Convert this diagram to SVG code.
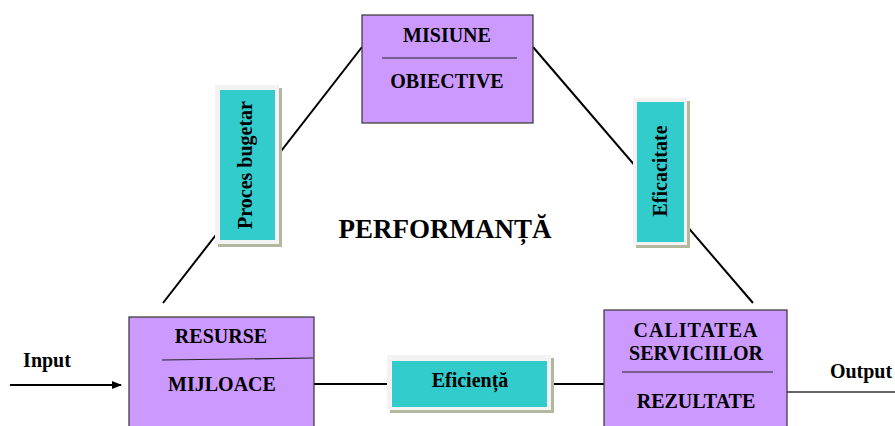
<svg xmlns="http://www.w3.org/2000/svg" width="895" height="426" viewBox="0 0 895 426">
<defs>
<style>
.box{fill:#cc99ff;stroke:#333333;stroke-width:1.2}
.div{stroke:#222222;stroke-width:1.2}
.shadow{fill:#b2b99f}
.frame{fill:#f3f3f3}
.teal{fill:#33cccc}
.t{font-family:"Liberation Serif","Times New Roman",serif;font-weight:bold;font-size:20px;fill:#000;text-anchor:middle}
.big{font-size:27px}
.conn{stroke:#000;stroke-width:2;fill:none}
</style>
<marker id="arr" markerWidth="10" markerHeight="8" refX="9" refY="4" orient="auto" markerUnits="userSpaceOnUse">
<path d="M0,0 L10,4 L0,8 Z" fill="#000"/>
</marker>
</defs>
<rect width="895" height="426" fill="#ffffff"/>
<g id="connectors">
<line class="conn" x1="163" y1="303" x2="362" y2="47"/>
<line class="conn" x1="533" y1="47" x2="753" y2="303"/>
<line class="conn" x1="314" y1="384" x2="388" y2="384"/>
<line class="conn" x1="553" y1="384" x2="604" y2="384"/>
<line class="conn" x1="10" y1="385" x2="121" y2="385" stroke-width="1.5" marker-end="url(#arr)"/>
<line x1="787" y1="392" x2="895" y2="392" stroke="#333" stroke-width="1.5"/>
</g>
<g id="misiune">
<rect class="box" x="362" y="15" width="171" height="108"/>
<line class="div" x1="382" y1="58" x2="517" y2="58"/>
<text class="t" x="447" y="42">MISIUNE</text>
<text class="t" x="447" y="88">OBIECTIVE</text>
</g>
<g id="proces-bugetar">
<rect class="shadow" x="218" y="88" width="64" height="159"/>
<rect class="frame" x="215" y="85" width="64" height="159"/>
<rect class="teal" x="220" y="90" width="55" height="150"/>
<text class="t" transform="translate(252,165) rotate(-90)">Proces bugetar</text>
</g>
<g id="eficacitate">
<rect class="shadow" x="636" y="101" width="54" height="147"/>
<rect class="frame" x="633" y="98" width="54" height="147"/>
<rect class="teal" x="637" y="102" width="47" height="140"/>
<text class="t" transform="translate(667,171) rotate(-90)">Eficacitate</text>
</g>
<g id="performanta">
<text class="t big" x="445" y="238">PERFORMANȚĂ</text>
</g>
<g id="input">
<text class="t" x="47" y="367">Input</text>
</g>
<g id="resurse">
<rect class="box" x="129" y="317" width="185" height="130"/>
<line class="div" x1="162" y1="360" x2="313" y2="358"/>
<text class="t" x="221" y="343">RESURSE</text>
<text class="t" x="222" y="391">MIJLOACE</text>
</g>
<g id="eficienta">
<rect class="shadow" x="390" y="358" width="164" height="55"/>
<rect class="frame" x="387" y="355" width="164" height="55"/>
<rect class="teal" x="392" y="361" width="155" height="46"/>
<text class="t" x="470" y="387">Eficiență</text>
</g>
<g id="calitatea">
<rect class="box" x="604" y="310" width="183" height="130"/>
<line class="div" x1="622" y1="372" x2="773" y2="372"/>
<text class="t" x="696" y="337" letter-spacing="1">CALITATEA</text>
<text class="t" x="696" y="360">SERVICIILOR</text>
<text class="t" x="696" y="408">REZULTATE</text>
</g>
<g id="output">
<text class="t" x="861" y="378">Output</text>
</g>
</svg>
